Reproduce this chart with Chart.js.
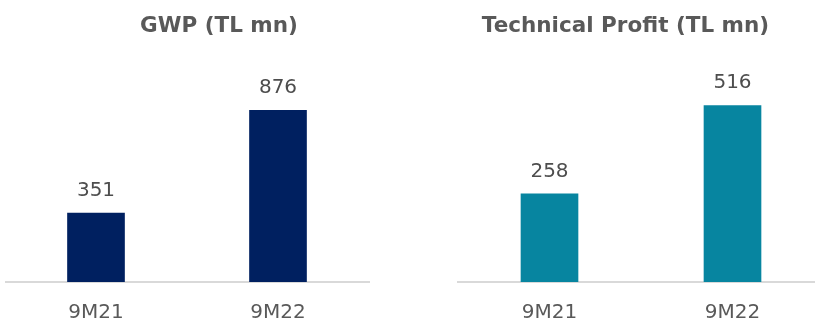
<!DOCTYPE html>
<html>
<head>
<meta charset="utf-8">
<script src="https://cdn.jsdelivr.net/npm/chart.js@4.4.1/dist/chart.umd.min.js"></script>
<style>
  html, body { margin: 0; padding: 0; background: #fff; overflow: hidden; }
  body { width: 815px; height: 324px; position: relative; }
  .box { position: absolute; top: 0; height: 344px; }
  #gwpBox { left: 5px; width: 428px; }
  #profitBox { left: 427px; width: 397px; }
</style>
</head>
<body>
<div class="box" id="gwpBox"><canvas id="gwpChart"></canvas></div>
<div class="box" id="profitBox"><canvas id="profitChart"></canvas></div>
<script>
  const periods = ['9M21', '9M22'];
  const gwpValues = [351, 876];
  const profitValues = [258, 516];

  const fontFamily = '"DejaVu Sans", sans-serif';
  const titleFont = { family: fontFamily, size: 21.5, weight: 'bold' };
  const tickFont = { family: fontFamily, size: 20 };
  const textGrey = '#595959';

  // etiquetas de valor acima das barras
  const valueLabels = {
    id: 'valueLabels',
    afterDatasetsDraw(chart) {
      const ctx = chart.ctx;
      const meta = chart.getDatasetMeta(0);
      ctx.save();
      ctx.font = '20px ' + fontFamily;
      ctx.fillStyle = '#4d4d4d';
      ctx.textAlign = 'center';
      ctx.textBaseline = 'alphabetic';
      meta.data.forEach((bar, i) => {
        ctx.fillText(chart.data.datasets[0].data[i], bar.x, bar.y - 17);
      });
      ctx.restore();
    }
  };

  function makeChart(id, title, values, color, yMax, yPos, yWidth) {
    return new Chart(document.getElementById(id), {
      type: 'bar',
      data: {
        labels: periods,
        datasets: [{
          data: values,
          backgroundColor: color,
          barThickness: 57
        }]
      },
      options: {
        responsive: true,
        maintainAspectRatio: false,
        animation: false,
        layout: { padding: 0 },
        plugins: {
          legend: { display: false },
          tooltip: { enabled: false },
          title: {
            display: true,
            text: title,
            color: textGrey,
            font: titleFont,
            padding: { top: 14, bottom: 46.2 }
          }
        },
        scales: {
          x: {
            grid: { display: false, drawTicks: false },
            border: { display: true, color: '#d9d9d9', width: 2 },
            ticks: { color: textGrey, font: tickFont, padding: 19 }
          },
          y: {
            position: yPos,
            min: 0,
            max: yMax,
            grid: { display: false, drawTicks: false },
            border: { display: false },
            ticks: { display: false },
            afterFit(scale) { scale.width = yWidth; } // empurra o título pro lado certo
          }
        }
      },
      plugins: [valueLabels]
    });
  }

  // ======== GWP ========
  makeChart('gwpChart', 'GWP (TL mn)', gwpValues, '#002060', 1000, 'right', 64);

  // ======== Technical Profit ========
  makeChart('profitChart', 'Technical Profit (TL mn)', profitValues, '#0785a0', 573, 'left', 31);
</script>
</body>
</html>
